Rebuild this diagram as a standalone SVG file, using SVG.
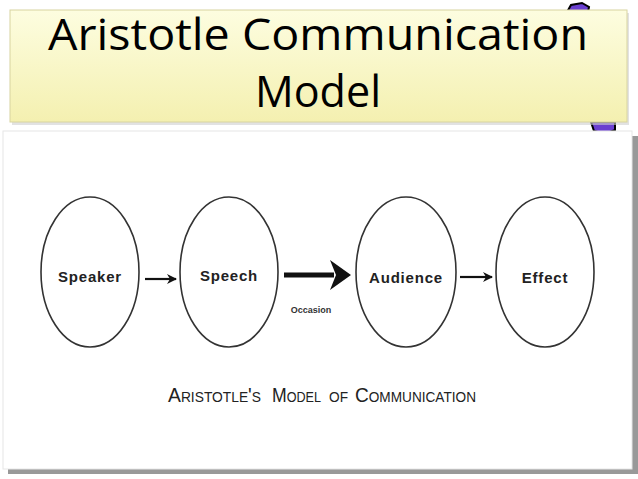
<svg xmlns="http://www.w3.org/2000/svg" width="638" height="479" viewBox="0 0 638 479">
<defs>
<linearGradient id="yel" x1="0" y1="0" x2="0" y2="1">
<stop offset="0" stop-color="#fdfde0"/>
<stop offset="1" stop-color="#f4f0b0"/>
</linearGradient>
<marker id="ah" markerWidth="10" markerHeight="10" refX="9" refY="5" orient="auto" markerUnits="userSpaceOnUse">
<path d="M0,0 L10,5 L0,10 L3,5 Z" fill="#111"/>
</marker>
<style>
.node{fill:#fff;stroke:#333;stroke-width:1.6}
.lbl{font-family:"Liberation Sans",Arial,sans-serif;font-weight:bold;font-size:15px;fill:#222;text-anchor:middle;letter-spacing:0.8px}
.title{font-family:"Open Sans","DejaVu Sans",sans-serif;font-size:44px;fill:#000;text-anchor:middle}
.cap{font-family:"Liberation Sans",Arial,sans-serif;fill:#222;font-size:21px;font-variant:small-caps}
</style>
</defs>
<rect width="638" height="479" fill="#fff"/>
<path d="M567,12 L571,5 L582,3 L589,7 L588,12 Z" fill="#6a3fd0" stroke="#000" stroke-width="2"/>
<path d="M591,122 L594,131 L605,134 L615,130 L615,122 Z" fill="#6a3fd0" stroke="#000" stroke-width="2"/>
<rect x="8" y="136" width="630" height="338" fill="#999"/>
<rect x="3" y="131" width="629" height="338" fill="#fff" stroke="#e6e6e6" stroke-width="1"/>
<g id="title">
<rect x="12" y="13" width="617" height="112" fill="#cfcfcf" opacity="0.6"/>
<rect x="10" y="10" width="617" height="112" fill="url(#yel)" stroke="#d8d4a0" stroke-width="1"/>
<text class="title" x="318" y="50" textLength="540" lengthAdjust="spacingAndGlyphs">Aristotle Communication</text>
<text class="title" x="318" y="107" textLength="126" lengthAdjust="spacingAndGlyphs">Model</text>
</g>
<g id="speaker">
<ellipse class="node" cx="90" cy="272" rx="49" ry="75"/>
<text class="lbl" x="90" y="282">Speaker</text>
</g>
<g id="speech">
<ellipse class="node" cx="229" cy="272" rx="49" ry="75"/>
<text class="lbl" x="229" y="281">Speech</text>
</g>
<g id="audience">
<ellipse class="node" cx="406" cy="272" rx="50" ry="75"/>
<text class="lbl" x="406" y="283">Audience</text>
</g>
<g id="effect">
<ellipse class="node" cx="545" cy="272" rx="49" ry="75"/>
<text class="lbl" x="545" y="283">Effect</text>
</g>
<g id="connectors">
<line x1="145" y1="279" x2="176" y2="279" stroke="#111" stroke-width="2.2" marker-end="url(#ah)"/>
<line x1="284" y1="275" x2="334" y2="275" stroke="#111" stroke-width="5"/>
<path d="M330,260 L351,275 L330,290 L336,275 Z" fill="#111"/>
<line x1="460" y1="277" x2="492" y2="277" stroke="#111" stroke-width="2.2" marker-end="url(#ah)"/>
<text x="311" y="313" font-family="'Liberation Sans',Arial,sans-serif" font-weight="bold" font-size="9" fill="#333" text-anchor="middle">Occasion</text>
</g>
<g id="caption">
<text class="cap" x="168" y="402" textLength="93" lengthAdjust="spacingAndGlyphs">Aristotle's</text>
<text class="cap" x="272" y="402" textLength="49" lengthAdjust="spacingAndGlyphs">Model</text>
<text class="cap" x="329" y="402" textLength="19" lengthAdjust="spacingAndGlyphs">of</text>
<text class="cap" x="355" y="402" textLength="121" lengthAdjust="spacingAndGlyphs">Communication</text>
</g>
</svg>
